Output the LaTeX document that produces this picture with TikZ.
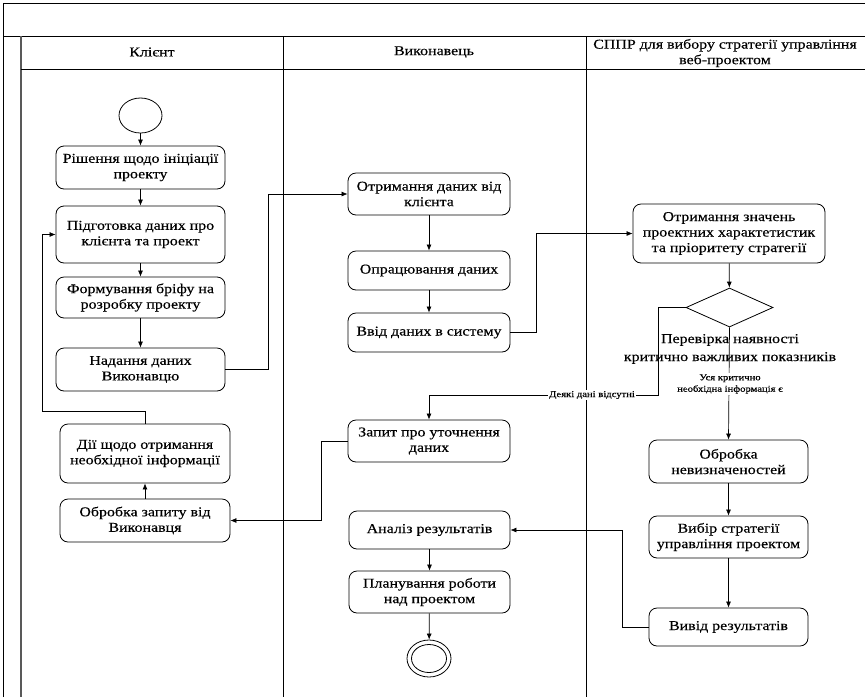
\documentclass[tikz,border=0pt]{standalone}
\usepackage{fontspec}
\setmainfont{Liberation Serif}[FakeStretch=1.18, FakeBold=0.3]
\usetikzlibrary{shapes.geometric,arrows.meta}
\begin{document}
\begin{tikzpicture}[x=1pt,y=-1pt,
  lane/.style={line width=0.8pt},
  box/.style={draw, rounded corners=8pt, align=center, fill=white,
    line width=0.8pt, inner sep=1pt, font=\fontsize{13.5}{15.5}\selectfont},
  hdr/.style={align=center, font=\fontsize{13.5}{15.5}\selectfont},
  small/.style={align=center, font=\fontsize{9}{11.5}\selectfont, inner sep=1pt},
  flow/.style={-{Latex[length=6pt,width=5pt]}, line width=0.7pt},
  plain/.style={line width=0.7pt}]
\useasboundingbox (0,0) rectangle (865,697);
% pool and lanes
\draw[lane] (3,697) -- (3,3) -- (865,3);
\draw[lane] (3,36) -- (865,36);
\draw[line width=1.6pt, black!65] (21,36) -- (21,697);
\draw[lane] (21,69) -- (865,69);
\draw[lane] (283,36) -- (283,697);
\draw[lane] (586,36) -- (586,697);
\node[hdr] (h1) at (152,52) {Клієнт};
\node[hdr] (h2) at (434,52) {Виконавець};
\node[hdr] (h3) at (725,53) {СППР для вибору стратегії управління\\веб-проектом};
% client lane
\node[draw, ellipse, line width=0.8pt, minimum width=43pt, minimum height=35pt, inner sep=0pt] (start) at (140.5,115.5) {};
\node[box, minimum width=169pt, minimum height=43pt] (n1) at (140.5,167.5) {Рішення щодо ініціації\\проекту};
\node[box, minimum width=169pt, minimum height=57pt] (n2) at (140.5,234.5) {Підготовка даних про\\клієнта та проект};
\node[box, minimum width=169pt, minimum height=41pt] (n3) at (140.5,297.5) {Формування бріфу на\\розробку проекту};
\node[box, minimum width=169pt, minimum height=43pt] (n4) at (140.5,369.5) {Надання даних\\Виконавцю};
\node[box, minimum width=170pt, minimum height=59pt] (n5) at (145,453.5) {Дії щодо отримання\\необхідної інформації};
\node[box, minimum width=170pt, minimum height=43pt] (n6) at (145,520.5) {Обробка запиту від\\Виконавця};
% executor lane
\node[box, minimum width=162pt, minimum height=42pt] (n7) at (429,194) {Отримання даних від\\клієнта};
\node[box, minimum width=162pt, minimum height=39pt] (n8) at (429,270.5) {Опрацювання даних};
\node[box, minimum width=162pt, minimum height=39pt] (n9) at (429,332.5) {Ввід даних в систему};
\node[box, minimum width=162pt, minimum height=42pt] (n10) at (429,441) {Запит про уточнення\\даних};
\node[box, minimum width=161pt, minimum height=38pt] (n11) at (429.5,530) {Аналіз результатів};
\node[box, minimum width=161pt, minimum height=42pt] (n12) at (429.5,592) {Планування роботи\\над проектом};
\node[draw, ellipse, line width=0.8pt, minimum width=44pt, minimum height=37pt, inner sep=0pt] (end) at (429,658.5) {};
\node[draw, ellipse, line width=0.8pt, minimum width=35pt, minimum height=28pt, inner sep=0pt] (endin) at (429,658.5) {};
% DSS lane
\node[box, minimum width=192pt, minimum height=59pt] (n13) at (729,233.5) {Отримання значень\\проектних характетистик\\та пріоритету стратегії};
\node[draw, diamond, line width=0.8pt, minimum width=87pt, minimum height=39pt, inner sep=0pt, fill=white] (dia) at (729.5,307.5) {};
\node[box, minimum width=159pt, minimum height=43pt] (n14) at (728.5,461.5) {Обробка\\невизначеностей};
\node[box, minimum width=159pt, minimum height=42pt] (n15) at (728.5,537) {Вибір стратегії\\управління проектом};
\node[box, minimum width=159pt, minimum height=38pt] (n16) at (728.5,627) {Вивід результатів};
% connectors
\draw[flow] (start) -- (n1);
\draw[flow] (n1) -- (n2);
\draw[flow] (n2) -- (n3);
\draw[flow] (n3) -- (n4);
\draw[flow] (n4.east) -- ++(43,0) |- (n7.west);
\draw[flow] (n5.north) -- ++(0,-12) -| ([xshift=-13pt]n2.west) -- (n2.west);
\draw[flow] (n6) -- (n5);
\draw[flow] (n7) -- (n8);
\draw[flow] (n8) -- (n9);
\draw[flow] (n9.east) -- ++(26,0) |- (n13.west);
\draw[flow] (n13) -- (dia);
\draw[flow] (dia.south) -- (n14.north);
\draw[flow] (dia.west) -- ++(-27,0) -- ++(0,87.5) -| (n10.north);
\draw[flow] (n10.west) -- ++(-26,0) |- (n6.east);
\draw[flow] (n11) -- (n12);
\draw[flow] (n12) -- (end);
\draw[flow] (n14) -- (n15);
\draw[flow] (n15) -- (n16);
\draw[flow] (n16.west) -- ++(-26,0) |- (n11.east);
% labels
\node[align=center, font=\fontsize{13.5}{18}\selectfont] (dlab) at (730,349) {Перевірка наявності\\критично важливих показників};
\node[small, fill=white] (ylab) at (730,384) {Уся критично\\необхідна інформація є};
\node[small, fill=white] (nlab) at (592,395) {Деякі дані відсутні};
\end{tikzpicture}
\end{document}
